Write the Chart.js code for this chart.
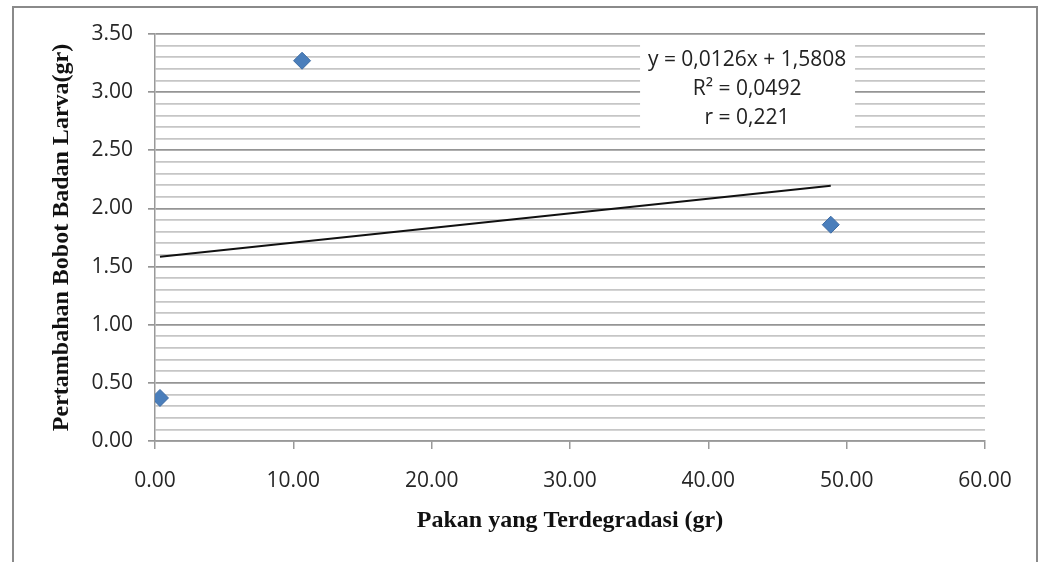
<!DOCTYPE html>
<html>
<head>
<meta charset="utf-8">
<script src="https://cdn.jsdelivr.net/npm/chart.js@4/dist/chart.umd.min.js"></script>
<style>
  html, body { margin: 0; padding: 0; background: #fff; }
  #wrap { width: 1044px; height: 562px; }
</style>
</head>
<body>
<div id="wrap"><canvas id="myChart" width="1044" height="562"></canvas></div>
<script>
// points
var pakanX = [0.36, 10.63, 48.85];
var bobotY = [0.37, 3.27, 1.86];
// linear trend, drawn between the smallest and largest x
var trendX = [0.36, 48.85];
var trendY = [1.585, 2.196];
var eqLines = ['y = 0,0126x + 1,5808', 'R\u00b2 = 0,0492', 'r = 0,221'];
var xTitle = 'Pakan yang Terdegradasi (gr)';
var yTitle = 'Pertambahan Bobot Badan Larva(gr)';

function isMajor(v) {
    return Math.abs(v * 2 - Math.round(v * 2)) < 1e-6;
}

var frame = {
    id: 'frame',
    beforeDraw: function(chart) {
        var c = chart.ctx;
        c.save();
        c.fillStyle = '#fff';
        c.fillRect(0, 0, chart.width, chart.height);
        c.strokeStyle = '#8a8a8a';
        c.lineWidth = 2;
        c.strokeRect(13, 7, 1024, 600);
        c.restore();
    }
};

var equation = {
    id: 'equation',
    afterDatasetsDraw: function(chart) {
        var c = chart.ctx;
        var cx = chart.scales.x.getPixelForValue(42.8);
        var top = chart.scales.y.getPixelForValue(3.415);
        c.save();
        c.fillStyle = '#fff';
        c.fillRect(cx - 107, top, 215, 87);
        c.fillStyle = '#222';
        c.font = '21px "Open Sans"';
        c.textAlign = 'center';
        c.textBaseline = 'middle';
        for (var i = 0; i < eqLines.length; i++) {
            c.fillText(eqLines[i], cx, top + 16 + i * 29);
        }
        c.restore();
    }
};

var ctx = document.getElementById('myChart').getContext('2d');
var pts = [];
for (var i = 0; i < pakanX.length; i++) pts.push({ x: pakanX[i], y: bobotY[i] });
var tr = [];
for (var j = 0; j < trendX.length; j++) tr.push({ x: trendX[j], y: trendY[j] });

new Chart(ctx, {
    type: 'scatter',
    data: {
        datasets: [{
            type: 'line',
            data: tr,
            borderColor: '#111',
            borderWidth: 2,
            pointRadius: 0,
            fill: false,
            order: 2
        }, {
            data: pts,
            pointStyle: 'rectRot',
            pointRadius: 8.5,
            backgroundColor: '#4a7ebb',
            borderColor: '#3d6ba3',
            borderWidth: 1,
            order: 1
        }]
    },
    options: {
        responsive: false,
        animation: false,
        devicePixelRatio: 1,
        layout: { padding: { top: 34, right: 59, left: 0, bottom: 0 } },
        plugins: { legend: { display: false }, tooltip: { enabled: false } },
        scales: {
            x: {
                type: 'linear',
                min: 0, max: 60,
                ticks: {
                    stepSize: 10,
                    padding: 19,
                    color: '#262626',
                    font: { family: 'Open Sans', size: 21 },
                    callback: function(v) { return v.toFixed(2); }
                },
                grid: { drawOnChartArea: false, drawTicks: true, tickLength: 8, tickColor: '#999', lineWidth: 1.5 },
                border: { display: true, color: '#999', width: 1.5 },
                title: {
                    display: true, text: xTitle, color: '#111',
                    font: { family: 'Liberation Serif', size: 24, weight: 'bold' },
                    padding: { top: 0, bottom: 27 }
                },
                afterFit: function(s) { s.height = 121; }
            },
            y: {
                min: 0, max: 3.5,
                ticks: {
                    stepSize: 0.1,
                    autoSkip: false,
                    padding: 15,
                    color: '#262626',
                    font: { family: 'Open Sans', size: 21 },
                    callback: function(v) { return isMajor(v) ? v.toFixed(2) : ''; }
                },
                grid: {
                    color: function(c) { return isMajor(c.tick.value) ? '#959595' : '#c6c6c6'; },
                    tickColor: function(c) { return isMajor(c.tick.value) ? '#959595' : 'rgba(0,0,0,0)'; },
                    lineWidth: 1.7,
                    tickLength: 7
                },
                border: { display: true, color: '#999', width: 1.5 },
                title: {
                    display: true, text: yTitle, color: '#111',
                    font: { family: 'Liberation Serif', size: 24, weight: 'bold' },
                    padding: { top: 47, bottom: 0 }
                },
                afterFit: function(s) { s.width = 155; }
            }
        }
    },
    plugins: [frame, equation]
});
</script>
</body>
</html>
